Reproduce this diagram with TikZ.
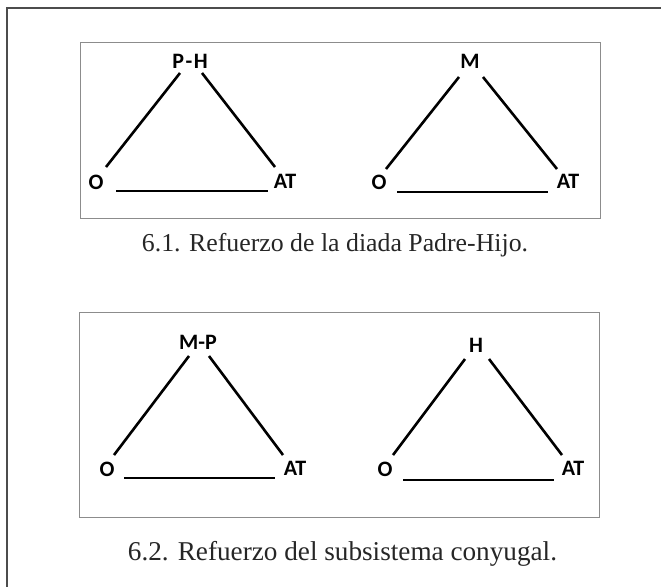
\documentclass[tikz,border=0pt]{standalone}
\usepackage{fontspec}
\setmainfont{Liberation Serif}
\newfontfamily\lblfont{Carlito}
\begin{document}
\begin{tikzpicture}[x=1pt,y=-1pt,
  lbl/.style={font=\lblfont\bfseries\fontsize{22}{22}\selectfont, inner sep=0pt},
  triline/.style={line width=2.6pt},
  panel/.style={draw=black!45, line width=0.9pt},
  captext/.style={font=\fontsize{25.8}{27}\selectfont, inner sep=0pt, text=black!85}]
\useasboundingbox (0,0) rectangle (661,587);
% outer frame
\coordinate (ftr) at (661,8);
\coordinate (ftl) at (7,8);
\coordinate (fbl) at (7,587);
\draw[black!70, line width=1.4pt] (ftr) -- (ftl) -- (fbl);
% panels
\node[panel, minimum width=520pt, minimum height=176pt, inner sep=0pt] (box1) at (340,130) {};
\node[panel, minimum width=520pt, minimum height=205pt, inner sep=0pt] (box2) at (339,414.5) {};
% captions
\node[captext] (cap1) at (335,245) {6.1. Refuerzo de la diada Padre-Hijo.};
\node[captext, font=\fontsize{27.2}{29}\selectfont] (cap2) at (342.5,554) {6.2. Refuerzo del subsistema conyugal.};
% triangle 1
\node[lbl] (t1top) at (190,61) {P\hspace{1.5pt}-\hspace{1.5pt}H};
\node[lbl] (t1o) at (96,182) {O};
\node[lbl] (t1at) at (285,181) {AT};
\coordinate (a1) at (180,73); \coordinate (a2) at (106,167);
\coordinate (a3) at (202,73); \coordinate (a4) at (275,167);
\coordinate (a5) at (116,191); \coordinate (a6) at (268,191);
\draw[triline] (a1) -- (a2); \draw[triline] (a3) -- (a4); \draw[triline] (a5) -- (a6);
% triangle 2
\node[lbl] (t2top) at (470,61) {M};
\node[lbl] (t2o) at (379,182) {O};
\node[lbl] (t2at) at (568,181) {AT};
\coordinate (b1) at (459,77); \coordinate (b2) at (386,169);
\coordinate (b3) at (483,77); \coordinate (b4) at (557,169);
\coordinate (b5) at (397,192); \coordinate (b6) at (548,192);
\draw[triline] (b1) -- (b2); \draw[triline] (b3) -- (b4); \draw[triline] (b5) -- (b6);
% triangle 3
\node[lbl] (t3top) at (198,342) {M-P};
\node[lbl] (t3o) at (107,469) {O};
\node[lbl] (t3at) at (295,468) {AT};
\coordinate (c1) at (189,356); \coordinate (c2) at (114,455);
\coordinate (c3) at (209,356); \coordinate (c4) at (283,455);
\coordinate (c5) at (124,478); \coordinate (c6) at (275,478);
\draw[triline] (c1) -- (c2); \draw[triline] (c3) -- (c4); \draw[triline] (c5) -- (c6);
% triangle 4
\node[lbl] (t4top) at (476,345) {H};
\node[lbl] (t4o) at (385,469) {O};
\node[lbl] (t4at) at (573,468) {AT};
\coordinate (d1) at (465,359); \coordinate (d2) at (393,455);
\coordinate (d3) at (489,359); \coordinate (d4) at (562,455);
\coordinate (d5) at (403,480); \coordinate (d6) at (554,480);
\draw[triline] (d1) -- (d2); \draw[triline] (d3) -- (d4); \draw[triline] (d5) -- (d6);
\end{tikzpicture}
\end{document}
